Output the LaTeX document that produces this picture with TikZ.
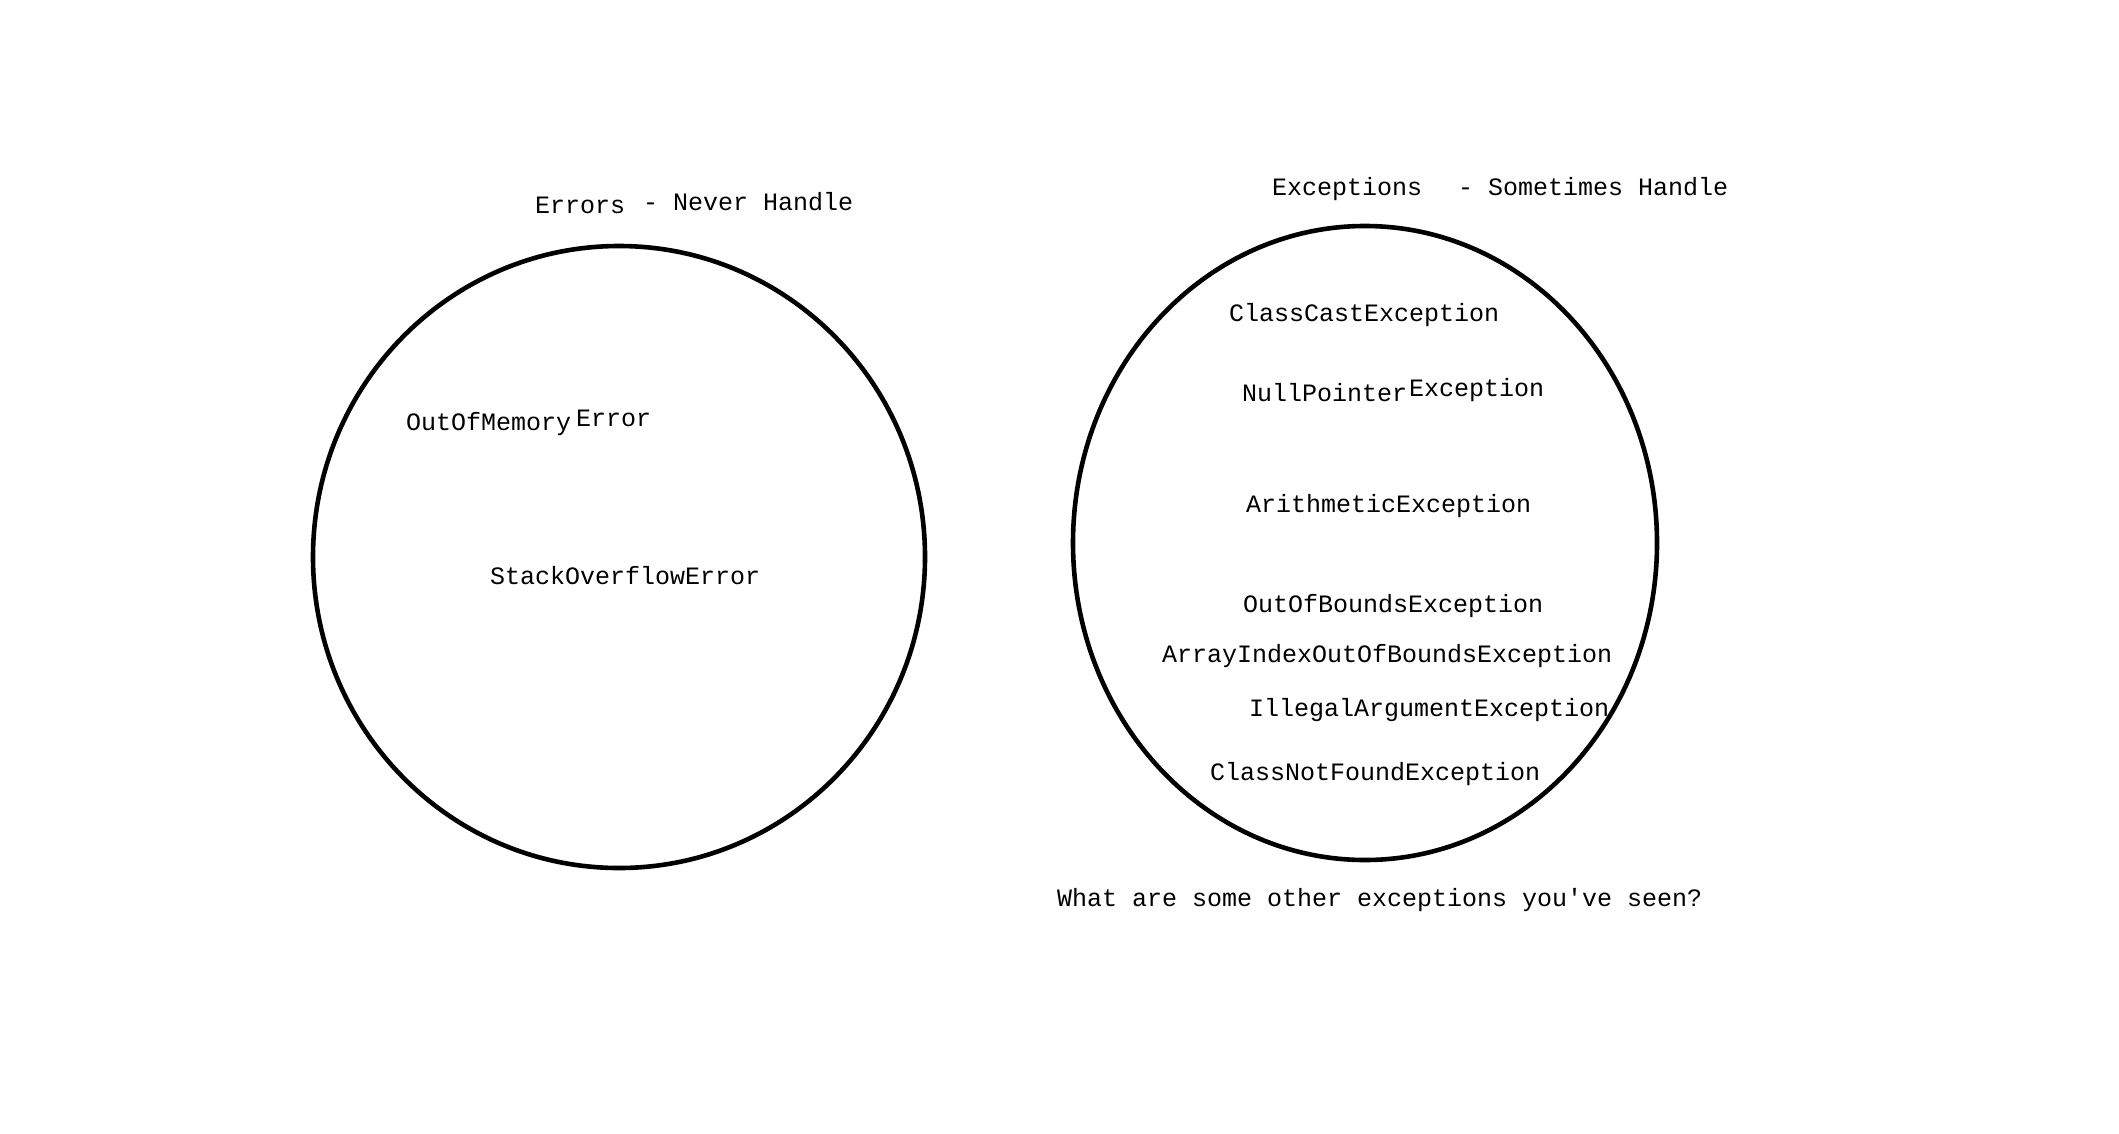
\documentclass[tikz,border=0pt]{standalone}
\usepackage{fontspec}
\setmainfont{Liberation Mono}
\begin{document}
\begin{tikzpicture}[x=1pt,y=-1pt,
  lbl/.style={anchor=base west,inner sep=0pt,font=\fontsize{25}{30}\selectfont},
  ring/.style={draw=black,line width=4.6pt}]
\useasboundingbox (0,0) rectangle (2119,1133);
% sets
\draw[ring] (619,557) ellipse [x radius=306, y radius=311];
\draw[ring] (1365,543) ellipse [x radius=292, y radius=317];
% titles
\node[lbl] (errt) at (535,213) {Errors};
\node[lbl] (errh) at (643,210) {- Never Handle};
\node[lbl] (exct) at (1272,195) {Exceptions};
\node[lbl] (exch) at (1458,195) {- Sometimes Handle};
% errors
\node[lbl] (oom) at (406,430) {OutOfMemory};
\node[lbl] (oome) at (576,426) {Error};
\node[lbl] (soe) at (490,584) {StackOverflowError};
% exceptions
\node[lbl] (cce) at (1229,321) {ClassCastException};
\node[lbl] (npe) at (1242,401) {NullPointer};
\node[lbl] (npee) at (1409,396) {Exception};
\node[lbl] (ae) at (1246,512) {ArithmeticException};
\node[lbl] (oob) at (1243,612) {OutOfBoundsException};
\node[lbl] (aioob) at (1162,662) {ArrayIndexOutOfBoundsException};
\node[lbl] (iae) at (1249,716) {IllegalArgumentException};
\node[lbl] (cnfe) at (1210,780) {ClassNotFoundException};
% question
\node[lbl] (q) at (1057,906) {What are some other exceptions you\textquotesingle ve seen?};
\end{tikzpicture}
\end{document}
